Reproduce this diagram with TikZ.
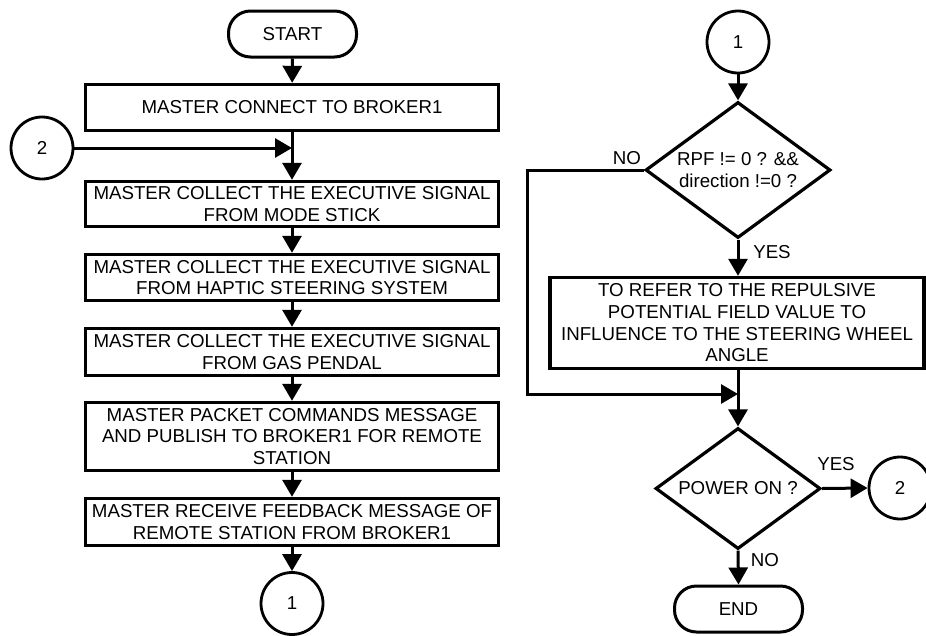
\documentclass[tikz,border=0pt]{standalone}
\usepackage{fontspec}
\setmainfont{Liberation Sans}
\usetikzlibrary{arrows.meta,shapes.geometric,calc}
\tikzset{
  base/.style={font=\fontsize{18.7}{21.7}\selectfont, align=center, inner sep=0pt},
  proc/.style={base, draw, line width=3.4pt, rectangle, minimum width=413pt},
  term/.style={base, draw, line width=3pt, rectangle, rounded corners=22pt, minimum width=128pt, minimum height=46pt},
  conn/.style={base, draw, line width=2.8pt, circle, minimum size=62pt},
  dec/.style={base, draw, line width=3.2pt, diamond, aspect=1.36},
  arr/.style={line width=3pt, -{Triangle[length=17pt,width=19pt]}},
  lin/.style={line width=3pt},
  lbl/.style={base}
}
\begin{document}
\begin{tikzpicture}[x=1pt,y=-1pt]
\useasboundingbox (0,0) rectangle (926,635);
% left column
\node[term] (start) at (292.5,34) {START};
\node[proc, minimum height=46pt] (b1) at (292,107.5) {MASTER CONNECT TO BROKER1};
\node[conn] (c2l) at (42,148) {2};
\node[proc, minimum height=45pt] (b2) at (292,204) {MASTER COLLECT THE EXECUTIVE SIGNAL\\FROM MODE STICK};
\node[proc, minimum height=46pt] (b3) at (292,277.5) {MASTER COLLECT THE EXECUTIVE SIGNAL\\FROM HAPTIC STEERING SYSTEM};
\node[proc, minimum height=47pt] (b4) at (292,352) {MASTER COLLECT THE EXECUTIVE SIGNAL\\FROM GAS PENDAL};
\node[proc, minimum height=68pt] (b5) at (292,436.5) {MASTER PACKET COMMANDS MESSAGE\\AND PUBLISH TO BROKER1 FOR REMOTE\\STATION};
\node[proc, minimum height=47pt] (b6) at (292,522) {MASTER RECEIVE FEEDBACK MESSAGE OF\\REMOTE STATION FROM BROKER1};
\node[conn] (c1l) at (292,603.5) {1};
\draw[arr] (start) -- (b1);
\draw[arr] (b1) -- (b2);
\draw[arr] (c2l.east) -- (c2l -| b1.south);
\draw[arr] (b2) -- (b3);
\draw[arr] (b3) -- (b4);
\draw[arr] (b4) -- (b5);
\draw[arr] (b5) -- (b6);
\draw[arr] (b6) -- (c1l);
% right column
\node[conn] (c1r) at (738,42) {1};
\node[dec, minimum width=185pt, minimum height=136pt] (d1) at (738,170) {RPF != 0 ? \&\&\\direction !=0 ?};
\node[proc, minimum width=374pt, minimum height=91pt] (b7) at (737,323) {TO REFER TO THE REPULSIVE\\POTENTIAL FIELD VALUE TO\\INFLUENCE TO THE STEERING WHEEL\\ANGLE};
\coordinate (m) at (738,394);
\node[dec, minimum width=165pt, minimum height=121pt] (d2) at (738,488.5) {POWER ON ?};
\node[conn] (c2r) at (900,488) {2};
\node[term] (end) at (738.5,609) {END};
\draw[arr] (c1r) -- (d1);
\draw[arr] (d1.south) -- (d1.south |- b7.north);
\node[lbl] (yes1) at (772,252) {YES};
\draw[arr] (d1.west) -- ++(-116,0) |- (m);
\node[lbl] (no1) at (627,158) {NO};
\draw[lin] (b7.south -| m) -- (m);
\draw[arr] (m) -- (d2.north);
\draw[arr] (d2.east) -- (c2r.west);
\node[lbl] (yes2) at (836,464) {YES};
\draw[arr] (d2.south) -- (end.north);
\node[lbl] (no2) at (765,560) {NO};
\end{tikzpicture}
\end{document}
